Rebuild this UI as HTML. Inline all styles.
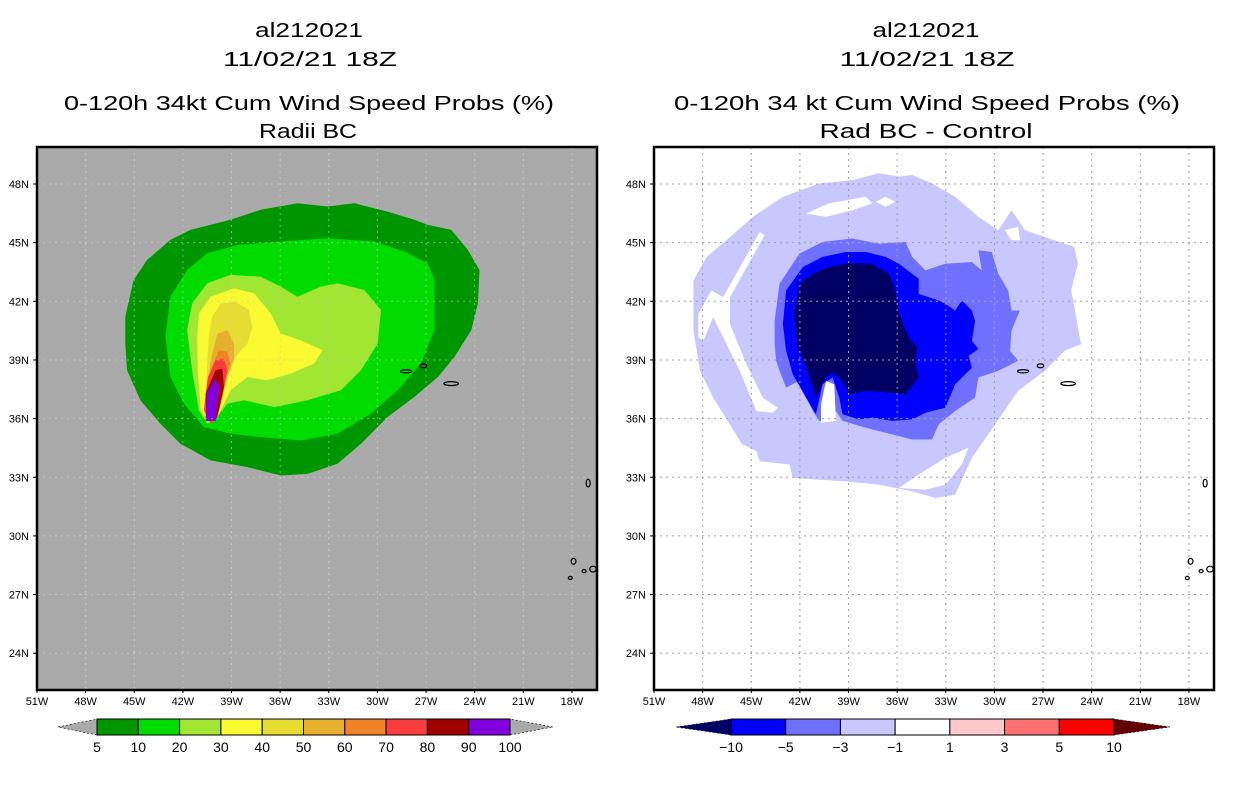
<!DOCTYPE html>
<html><head><meta charset="utf-8"><style>
html,body{margin:0;padding:0;background:#fff;}
svg{display:block;font-family:"Liberation Sans",sans-serif;}
</style></head><body>
<svg id="fig" width="1236" height="800" viewBox="0 0 1236 800" xmlns="http://www.w3.org/2000/svg">
<defs>
<clipPath id="clipL"><rect x="37" y="147" width="560" height="543"/></clipPath>
<clipPath id="clipR"><rect x="654" y="147" width="560" height="543"/></clipPath>
</defs>
<g font-size="20" fill="#000" text-anchor="middle">
<text x="309" y="37" textLength="108" lengthAdjust="spacingAndGlyphs">al212021</text>
<text x="310" y="66" textLength="174" lengthAdjust="spacingAndGlyphs">11/02/21 18Z</text>
<text x="309" y="110" textLength="490" lengthAdjust="spacingAndGlyphs">0-120h 34kt Cum Wind Speed Probs (%)</text>
<text x="308" y="138" textLength="98" lengthAdjust="spacingAndGlyphs">Radii BC</text>
</g>
<g font-size="20" fill="#000" text-anchor="middle">
<text x="926" y="37" textLength="107" lengthAdjust="spacingAndGlyphs">al212021</text>
<text x="927" y="66" textLength="175" lengthAdjust="spacingAndGlyphs">11/02/21 18Z</text>
<text x="927" y="110" textLength="506" lengthAdjust="spacingAndGlyphs">0-120h 34 kt Cum Wind Speed Probs (%)</text>
<text x="926" y="138" textLength="213" lengthAdjust="spacingAndGlyphs">Rad BC - Control</text>
</g>
<g id="panelL"></g>
<g id="panelR"></g>
<g id="cbL"></g>
<g id="cbR"></g>
</svg>
<script>
// ---- data (lonW, latN) ----
const lonTicks = [51,48,45,42,39,36,33,30,27,24,21,18];
const latTicks = [48,45,42,39,36,33,30,27,24];
const probLevels = ["5","10","20","30","40","50","60","70","80","90","100"];
const probColors = ["#009600","#00dc00","#a0e632","#fafa32","#e6dc32","#e6af2d","#f08228","#fa3c3c","#a00000","#8200dc"];
const diffLevels = ["-10","-5","-3","-1","1","3","5","10"];
const diffColors = ["#0000ff","#7070ff","#c8c8ff","#ffffff","#ffc8c8","#ff7070","#ff0000"];
const prob5 = [[45.55,41.21],[45.04,43.09],[44.21,44.11],[42.77,45.14],[41.53,45.65],[39.06,46.17],[37.2,46.68],[34.93,47.02],[33.08,46.85],[31.43,47.02],[29.37,46.59],[27.72,46.17],[26.89,45.91],[25.45,45.65],[24.42,44.63],[23.7,43.6],[23.8,41.89],[24.21,40.53],[25.24,39.16],[26.27,38.13],[27.72,37.11],[29.37,36.08],[31.01,34.71],[32.46,33.69],[34.31,33.17],[35.96,33.09],[38.02,33.52],[40.29,33.86],[42.15,34.71],[43.39,35.74],[44.62,36.94],[45.45,38.47],[45.55,39.84]];
const prob10 = [[43.08,40.18],[42.77,42.23],[41.74,43.6],[40.5,44.46],[38.64,44.88],[35.96,45.06],[33.08,45.23],[30.19,45.06],[28.33,44.54],[26.89,43.94],[26.48,43.09],[26.48,40.53],[27.3,38.82],[28.75,37.45],[30.4,36.25],[32.46,35.23],[34.73,34.88],[37.2,35.06],[39.06,35.23],[40.71,35.57],[41.94,36.76],[42.77,38.13]];
const prob20 = [[41.74,40.52],[41.43,41.89],[40.5,42.92],[39.06,43.35],[37.2,43.26],[35.96,42.75],[34.93,42.23],[33.49,42.75],[32.46,42.92],[30.81,42.58],[29.78,41.55],[29.98,39.84],[31.01,38.47],[32.25,37.45],[34.31,36.94],[36.38,36.59],[38.23,36.94],[39.26,36.76],[39.88,36.08],[40.5,35.74],[41.01,36.42],[41.43,38.47]];
const prob30 = [[41.01,41.38],[40.29,42.23],[38.85,42.66],[37.61,42.41],[36.58,41.38],[35.96,40.35],[34.73,40.01],[33.39,39.5],[33.9,38.82],[35.34,38.3],[36.79,37.96],[38.02,38.13],[39.06,37.45],[39.67,36.42],[40.29,35.74],[40.91,36.42],[41.08,38.47],[41.12,40.18]];
const prob40 = [[40.19,41.21],[39.67,41.89],[38.75,41.98],[37.92,41.55],[37.72,40.7],[38.02,39.84],[38.75,39.16],[39.26,38.47],[39.67,37.11],[40.19,36.08],[40.6,36.76],[40.5,38.82],[40.4,40.18]];
const prob50 = [[39.88,40.35],[39.26,40.52],[38.85,39.84],[38.85,38.99],[39.26,38.13],[39.67,36.76],[40.19,35.99],[40.46,36.94],[40.33,38.82]];
const prob60 = [[39.78,39.5],[39.26,39.42],[39.06,38.82],[39.47,37.79],[39.88,36.42],[40.29,35.91],[40.6,36.76],[40.29,38.47]];
const prob70 = [[39.98,38.99],[39.47,39.07],[39.26,38.47],[39.57,37.11],[39.88,36.08],[40.29,35.74],[40.71,36.42],[40.46,38.13]];
const prob80 = [[39.98,38.47],[39.57,38.56],[39.47,37.62],[39.78,36.42],[39.98,35.91],[40.54,35.88],[40.6,37.28]];
const prob90 = [[39.98,38.05],[39.74,37.62],[39.88,36.76],[39.98,35.88],[40.6,35.88],[40.54,37.28]];
const diffM1 = [[48.57,43.07],[47.75,44.27],[46.53,45.12],[44.89,46.32],[43.05,47.35],[40.8,48.03],[38.76,48.2],[37.12,48.55],[35.89,48.38],[35.07,48.46],[33.85,48.03],[32.42,47.35],[30.99,46.32],[29.76,45.64],[28.94,46.66],[28.12,45.64],[26.89,45.29],[25.06,44.78],[24.85,43.92],[25.26,42.55],[25.06,41.7],[24.85,40.67],[24.65,39.81],[25.67,39.47],[26.89,38.44],[28.53,37.42],[29.96,35.7],[31.39,33.99],[32.42,32.11],[33.65,31.94],[35.07,32.28],[37.12,32.62],[39.17,32.79],[42.44,32.96],[42.64,33.65],[44.48,33.82],[45.3,34.33],[46.32,35.7],[47.35,37.07],[48.16,38.45],[48.57,40.5]];
const diffHoles = [
 [[48.27,41.35],[47.45,42.55],[46.73,42.21],[44.48,45.55],[44.18,45.38],[46.32,42.21],[46.32,40.84],[45.3,38.79],[44.28,37.07],[43.36,36.56],[43.66,36.3],[44.69,36.39],[45.71,38.44],[46.73,40.16],[47.35,41.18],[47.96,39.98],[48.27,40.16]],
 [[41.62,46.49],[40.19,47.01],[37.94,47.35],[37.53,47.01],[38.76,46.66],[40.39,46.32]],
 [[37.32,47.09],[36.71,47.35],[36.1,47.09],[36.71,46.83]],
 [[35.89,32.45],[34.67,33.14],[33.03,33.99],[31.6,34.51],[32.01,33.65],[33.03,32.62],[34.26,32.37]],
 [[45.5,34.68],[44.69,34.33],[44.48,33.82],[45.3,33.99]],
 [[29.35,45.64],[28.53,45.81],[28.43,45.12],[28.94,45.12]]
];
const diffM3 = [[43.56,41.01],[43.26,42.9],[42.03,44.44],[40.6,45.04],[38.76,45.21],[37.12,44.95],[35.48,45.04],[35.07,44.27],[34.26,43.58],[33.03,43.92],[31.39,44.01],[30.78,43.58],[30.99,44.61],[30.17,44.52],[29.76,43.41],[29.15,42.55],[28.94,41.53],[28.43,41.53],[28.94,40.5],[29.04,39.47],[28.53,38.96],[29.76,38.44],[30.99,38.1],[31.19,37.07],[32.42,36.39],[33.44,35.7],[33.85,34.93],[35.07,34.93],[36.3,35.19],[37.94,35.53],[39.37,35.88],[39.78,36.39],[40.39,35.88],[40.8,35.88],[41.21,36.39],[42.03,37.93],[42.85,37.59],[43.26,38.44],[43.46,38.96],[43.56,39.81]];
const diffM5 = [[43.05,40.84],[42.85,42.55],[41.82,43.75],[40.6,44.27],[39.17,44.52],[37.94,44.52],[36.71,44.27],[35.89,43.92],[34.67,43.15],[34.67,42.38],[33.44,42.04],[33.03,41.87],[32.42,41.53],[32.01,42.04],[31.39,41.53],[31.19,41.01],[31.39,39.98],[30.99,39.56],[31.6,39.21],[31.39,38.61],[32.42,37.76],[33.03,36.56],[34.26,36.3],[35.07,35.96],[36.3,35.88],[37.53,36.05],[38.35,35.96],[39.37,36.22],[39.57,37.07],[39.98,38.1],[40.6,37.76],[41.01,36.22],[41.62,37.07],[42.44,38.27],[42.85,39.47]];
const diffM10 = [[42.34,41.35],[42.03,42.9],[41.21,43.41],[40.19,43.75],[38.96,43.96],[37.53,43.92],[36.51,43.41],[36.1,42.55],[35.89,41.35],[35.28,40.16],[34.77,39.64],[34.87,38.79],[34.67,38.1],[35.48,37.25],[36.51,37.33],[37.94,37.42],[38.96,37.25],[39.37,37.93],[39.98,38.36],[40.39,38.1],[41.01,37.07],[41.62,38.68],[42.13,39.64]];
const whiteSpike = [[40.39,37.93],[39.88,37.76],[39.78,35.88],[40.7,35.79],[40.7,36.73]];
const islands = [[28.23,38.42,0.35,0.08],[27.16,38.7,0.2,0.1],[25.45,37.79,0.45,0.1],[17.0,32.7,0.12,0.2],[17.9,28.7,0.15,0.15],[17.25,28.2,0.1,0.08],[16.7,28.3,0.2,0.15],[18.1,27.85,0.08,0.08]];

const NS='http://www.w3.org/2000/svg';
function mk(tag,attrs,parent){const e=document.createElementNS(NS,tag);for(const k in attrs)e.setAttribute(k,attrs[k]);parent.appendChild(e);return e;}
const PXDEG=16.21, PYDEG=19.55;
function xs(x0){return lon=>x0+(51-lon)*PXDEG;}
function ys(lat){return 184+(48-lat)*PYDEG;}
function pathOf(poly,X){return poly.map((p,i)=>(i?'L':'M')+X(p[0]).toFixed(1)+','+ys(p[1]).toFixed(1)).join('')+'Z';}

function drawPanel(g,x0,clip,bg,gridColor){
  const X=xs(x0);
  const bgR=mk('rect',{x:x0,y:147,width:560,height:543,fill:bg},g);
  
  
  const cg=mk('g',{'clip-path':'url(#'+clip+')'},g);
  
  
  return {X,cg};
}
function drawGrid(g,x0,X,gridColor){
  const gg=mk('g',{stroke:gridColor,'stroke-width':1,'stroke-dasharray':'2,4'},g);
  
  
  lonTicks.slice(1).forEach(l=>{mk('line',{x1:X(l),x2:X(l),y1:147,y2:690},gg);});
  latTicks.forEach(l=>{mk('line',{x1:x0,x2:x0+560,y1:ys(l),y2:ys(l)},gg);});
}
function drawIslands(cg,X){
  islands.forEach(s=>{
    const e=mk('ellipse',{cx:X(s[0]),cy:ys(s[1]),rx:Math.max(2,s[2]*PXDEG),ry:Math.max(1.5,s[3]*PYDEG),fill:'none',stroke:'#000','stroke-width':1.2},cg);
    
    
  });
}
function drawFrame(g,x0,X){
  const fr=mk('rect',{x:x0,y:147,width:560,height:543,fill:'none',stroke:'#000','stroke-width':2.5},g);
  
  
  const ax=mk('g',{'font-size':11,fill:'#000'},g);
  
  
  lonTicks.forEach(l=>{
    const t=mk('text',{x:X(l),y:705,'text-anchor':'middle'},ax);t.textContent=l+'W';
    
    
    mk('line',{x1:X(l),x2:X(l),y1:690,y2:693,stroke:'#000'},ax);
  });
  latTicks.forEach(l=>{
    const t=mk('text',{x:x0-8,y:ys(l)+4,'text-anchor':'end'},ax);t.textContent=l+'N';
    
    
    mk('line',{x1:x0-4,x2:x0,y1:ys(l),y2:ys(l),stroke:'#000'},ax);
  });
}

// Left panel
(function(){
  const g=document.getElementById('panelL');
  const {X,cg}=drawPanel(g,37,'clipL','#aaaaaa');
  drawGrid(cg,37,X,'#c4c4c4');
  const polys=[prob5,prob10,prob20,prob30,prob40,prob50,prob60,prob70,prob80,prob90];
  polys.forEach((p,i)=>{
    const e=mk('path',{d:pathOf(p,X),fill:probColors[i]},cg);
    
    
  });
  drawGrid(cg,37,X,'rgba(200,200,200,0.6)');
  drawIslands(cg,X);
  drawFrame(g,37,X);
})();
// Right panel
(function(){
  const g=document.getElementById('panelR');
  const {X,cg}=drawPanel(g,654,'clipR','#ffffff');
  const a=mk('path',{d:pathOf(diffM1,X),fill:diffColors[2]},cg);
  
  
  diffHoles.forEach(h=>{
    const e=mk('path',{d:pathOf(h,X),fill:'#ffffff'},cg);
    
    
  });
  const b=mk('path',{d:pathOf(diffM3,X),fill:diffColors[1]},cg);
  
  
  const c=mk('path',{d:pathOf(diffM5,X),fill:diffColors[0]},cg);
  
  
  const d=mk('path',{d:pathOf(diffM10,X),fill:'#000064'},cg);
  
  
  const w=mk('path',{d:pathOf(whiteSpike,X),fill:'#ffffff'},cg);
  
  
  drawGrid(cg,654,X,'#a0a0a0');
  drawIslands(cg,X);
  drawFrame(g,654,X);
})();

// Colorbars
function colorbar(g,x0,x1,tipL,tipR,colors,labels,leftTip,rightTip){
  const y0=719,y1=735,ym=(y0+y1)/2;
  const n=colors.length, w=(x1-x0)/n;
  const l=mk('polygon',{points:`${tipL},${ym} ${x0},${y0} ${x0},${y1}`,fill:leftTip,stroke:'#000','stroke-width':0.6,'stroke-dasharray':'2,2'},g);
  
  
  const r=mk('polygon',{points:`${tipR},${ym} ${x1},${y0} ${x1},${y1}`,fill:rightTip,stroke:'#000','stroke-width':0.6,'stroke-dasharray':'2,2'},g);
  
  
  colors.forEach((c,i)=>{
    const b=mk('rect',{x:x0+i*w,y:y0,width:w,height:y1-y0,fill:c,stroke:'#000','stroke-width':1},g);
    
    
  });
  labels.forEach((t,i)=>{
    const e=mk('text',{x:x0+i*w,y:752,'text-anchor':'middle','font-size':14,fill:'#000'},g);
    e.textContent=t.replace('-','\u2212');
    
    
  });
}
colorbar(document.getElementById('cbL'),97,510,58,553,probColors,probLevels,'#aaaaaa','#aaaaaa');
colorbar(document.getElementById('cbR'),731,1114,676,1170,diffColors,diffLevels,'#000064','#640000');
</script>
</body></html>
